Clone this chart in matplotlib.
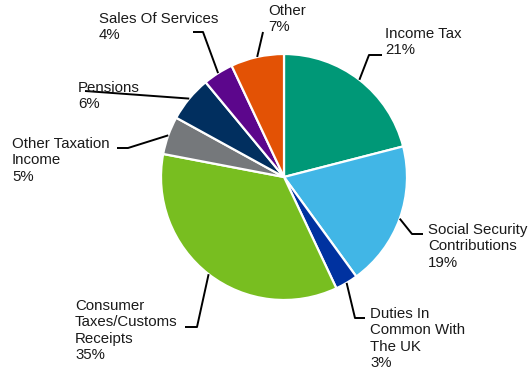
import numpy as np
import matplotlib
matplotlib.use("Agg")
import matplotlib.pyplot as plt

# Revenue shares, clockwise from 12 o'clock
categories = ["Income Tax", "Social Security\nContributions", "Duties In\nCommon With\nThe UK",
              "Consumer\nTaxes/Customs\nReceipts", "Other Taxation\nIncome", "Pensions",
              "Sales Of Services", "Other"]
shares = [21, 19, 3, 35, 5, 6, 4, 7]
colors = ["#009877", "#41B6E6", "#0032A0", "#78BE20", "#75787B", "#012F5F", "#5C068C", "#E35205"]

W, H = 530, 372
fig = plt.figure(figsize=(W / 100, H / 100), dpi=100)
ax = fig.add_axes([0, 0, 1, 1])

cx, cy, r = 284, H - 177, 123

def px(x, y):
    """Layout position given from the top-left corner."""
    return x, H - y

wedges, _ = ax.pie(shares, colors=colors, startangle=90, counterclock=False,
                   center=(cx, cy), radius=r, frame=True,
                   wedgeprops=dict(edgecolor="white", linewidth=1.6))
ax.set_xlim(0, W)
ax.set_ylim(0, H)
ax.set_aspect("equal")
ax.axis("off")

# label text position (left, top) and leader path (elbow, end) in layout units
label_pos = [(385, 27), (428, 223), (370, 307), (75, 299), (12, 137), (78, 81), (99, 12), (268, 4)]
leaders = [
    [(369, 55), (382, 55)],
    [(412, 234), (423, 234)],
    [(355, 318), (365, 318)],
    [(197, 327), (185, 327)],
    [(128, 148), (117, 148)],
    [(85, 91)],
    [(203, 32), (193, 32)],
    [(263, 32)],
]

font = dict(family=["Liberation Sans", "DejaVu Sans"], size=10.8, color="#1a1a1a")

for w, cat, val, pos, path in zip(wedges, categories, shares, label_pos, leaders):
    mid = np.deg2rad((w.theta1 + w.theta2) / 2)
    ax_, ay_ = cx + r * np.cos(mid), cy + r * np.sin(mid)
    xs = [ax_] + [p[0] for p in path]
    ys = [ay_] + [H - p[1] for p in path]
    ax.plot(xs, ys, color="black", lw=1.4, solid_capstyle="butt", zorder=3)
    tx, ty = px(*pos)
    ax.text(tx, ty, f"{cat}\n{val}%", ha="left", va="top", linespacing=1.22, **font)

fig.savefig("out.png", dpi=100)
